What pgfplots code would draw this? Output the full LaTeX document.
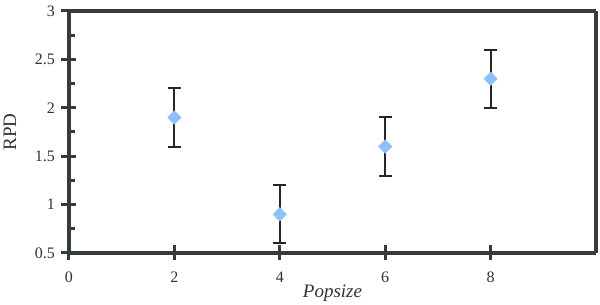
\documentclass[border=0pt]{standalone}
\usepackage{fontspec}
\setmainfont{Liberation Serif}
\usepackage{pgfplots}
\pgfplotsset{compat=1.18}
\definecolor{axisgray}{HTML}{363B3B}
\definecolor{barcol}{HTML}{262626}
\definecolor{markblue}{HTML}{8EC0F7}
\definecolor{labgray}{HTML}{333333}
\begin{document}
\begin{tikzpicture}
\begin{axis}[
  at={(0,0)}, anchor=south west,
  scale only axis, width=527pt, height=242pt,
  xmin=0, xmax=10, ymin=0.5, ymax=3,
  xtick={0,2,4,6,8}, ytick={0.5,1,1.5,2,2.5,3},
  minor y tick num=1,
  xtick pos=bottom, ytick pos=left,
  tick align=center,
  major tick length=15pt, minor tick length=6pt,
  every minor y tick/.append style={xshift=3pt},
  every tick/.append style={axisgray, line width=3pt},
  separate axis lines,
  every outer x axis line/.append style={axisgray, line width=3.5pt},
  every outer y axis line/.append style={axisgray, line width=3.5pt},
  /pgf/number format/assume math mode=true,
  ticklabel style={font=\fontsize{16}{18}\selectfont, text=labgray},
  yticklabel style={xshift=-3pt},
  xticklabel style={yshift=-8pt},
  xlabel={\textit{Popsize}}, ylabel={RPD},
  label style={font=\fontsize{19}{21}\selectfont, text=labgray},
  xlabel style={yshift=5pt},
  ylabel style={yshift=12pt},
]
\addplot[only marks, mark=square*, mark size=4.8pt,
  mark options={draw=markblue, fill=markblue, rotate=45},
  error bars/.cd, y dir=both, y explicit,
  error bar style={barcol, line width=2pt},
  error mark options={rotate=90, mark size=6.5pt, barcol, line width=2pt}]
coordinates {
 (2,1.9) +- (0,0.3)
 (4,0.9) +- (0,0.3)
 (6,1.6) +- (0,0.3)
 (8,2.3) +- (0,0.3)
};
\end{axis}
\pgfresetboundingbox
\path (-69pt,-52pt) rectangle (531pt,253pt);
\end{tikzpicture}
\end{document}
